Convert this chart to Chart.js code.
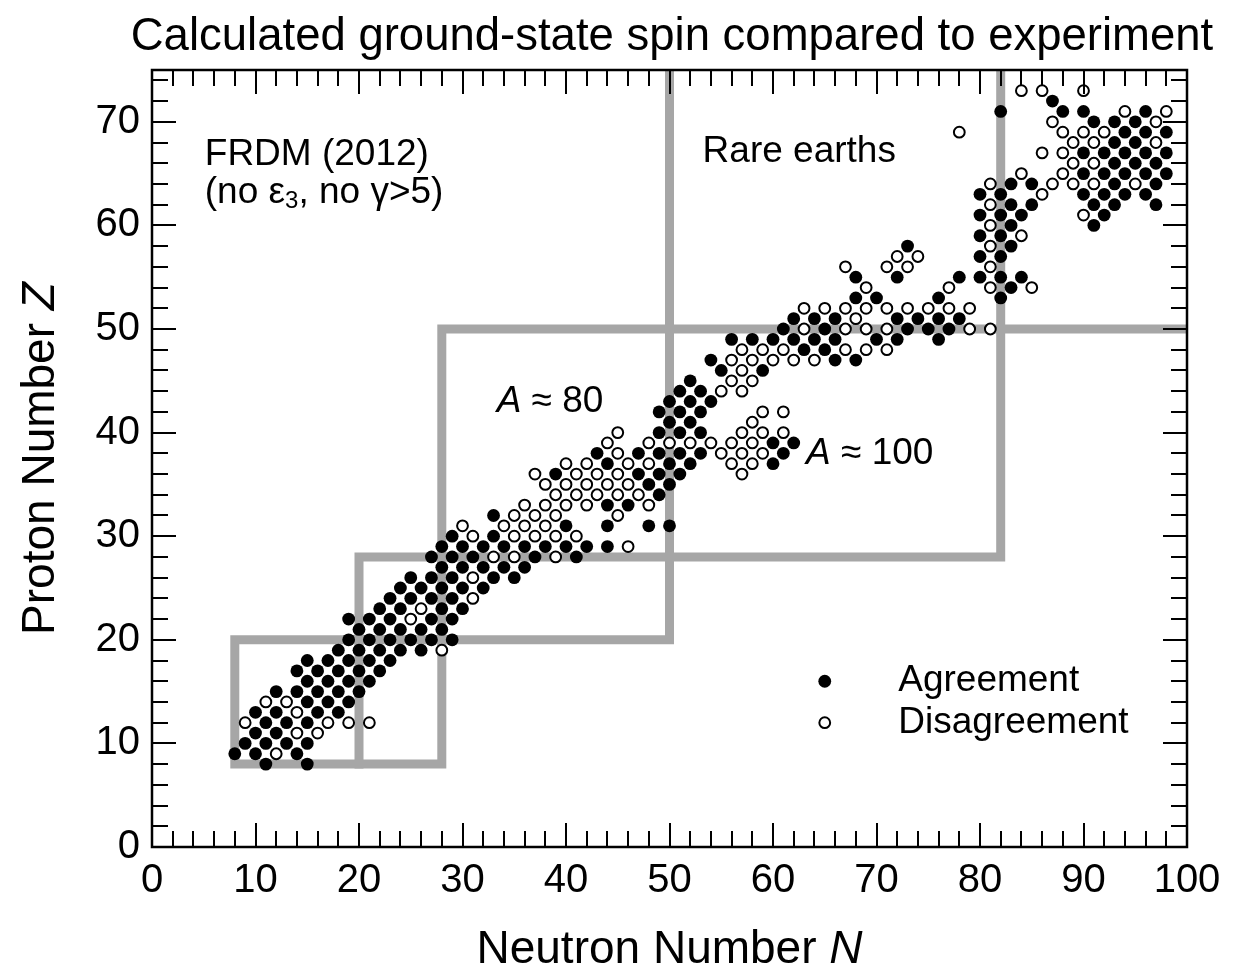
<!DOCTYPE html>
<html>
<head>
<meta charset="utf-8">
<script src="https://cdn.jsdelivr.net/npm/chart.js@4.4.1/dist/chart.umd.min.js"></script>
<style>
  html, body { margin: 0; padding: 0; background: #fff; }
</style>
</head>
<body>
<canvas id="spinChart" width="1258" height="980"></canvas>
<script>
// Ground-state spin: FRDM (2012) vs experiment

const FONT = '"Liberation Sans", Arial, Helvetica, sans-serif';

// axis ticks
const xTickValues = [0, 10, 20, 30, 40, 50, 60, 70, 80, 90, 100];
const yTickValues = [0, 10, 20, 30, 40, 50, 60, 70];
const minorStep = 2;

// [Z, [N, N, ...]] - calculated spin agrees with experiment
const agreement = [
    [8, [11, 15]],
    [9, [8, 10, 14]],
    [10, [9, 11, 13, 15]],
    [11, [10, 12]],
    [12, [11, 13, 15]],
    [13, [10, 12, 16, 18]],
    [14, [15, 17, 19]],
    [15, [12, 14, 16, 18, 20]],
    [16, [15, 17, 19, 21]],
    [17, [14, 16, 18, 20, 22]],
    [18, [15, 17, 19, 21, 23]],
    [19, [18, 20, 22, 24, 26]],
    [20, [19, 21, 23, 25, 27, 29]],
    [21, [20, 22, 24, 26, 28]],
    [22, [19, 21, 23, 27, 29]],
    [23, [22, 24, 28, 30]],
    [24, [23, 25, 27, 29]],
    [25, [24, 26, 28, 30, 32]],
    [26, [25, 27, 29, 33, 35]],
    [27, [28, 30, 32, 34, 36]],
    [28, [27, 29, 31, 37, 41]],
    [29, [28, 30, 32, 34, 36, 38, 40, 42, 44]],
    [30, [29, 33]],
    [31, [40, 44, 48, 50]],
    [32, [33]],
    [33, [44, 46]],
    [34, [49]],
    [35, [48, 50]],
    [36, [39, 47, 49, 51]],
    [37, [44, 50, 52, 60]],
    [38, [43, 47, 49, 51, 53, 61]],
    [39, [60, 62]],
    [40, [49, 51, 53]],
    [41, [50, 52]],
    [42, [49, 51, 53]],
    [43, [50, 52, 54]],
    [44, [51, 53]],
    [45, [52]],
    [46, [55, 59]],
    [47, [54, 66, 68]],
    [48, [63, 65]],
    [49, [56, 58, 60, 62, 64, 66, 70, 72, 76]],
    [50, [61, 65, 73, 75, 77]],
    [51, [62, 64, 66, 72, 74, 76, 78]],
    [53, [68, 70, 76, 82]],
    [54, [83]],
    [55, [68, 72, 78, 80, 82, 84]],
    [57, [80, 82]],
    [58, [73, 83]],
    [59, [80, 82]],
    [60, [83, 91]],
    [61, [80, 82, 84, 92]],
    [62, [83, 85, 91, 93, 97]],
    [63, [80, 82, 90, 92, 94, 96]],
    [64, [83, 85, 93, 97]],
    [65, [90, 92, 94, 96, 98]],
    [66, [93, 95, 97]],
    [67, [90, 92, 94, 96, 98]],
    [68, [93, 95]],
    [69, [94, 96, 98]],
    [70, [91, 93, 95]],
    [71, [82, 88, 90, 96]],
    [72, [87]]
];

// [Z, [N, N, ...]] - calculated spin disagrees with experiment
const disagreement = [
    [9, [12]],
    [11, [14, 16]],
    [12, [9, 17, 19, 21]],
    [13, [14]],
    [14, [11, 13]],
    [19, [28]],
    [22, [25]],
    [23, [26]],
    [24, [31]],
    [26, [31]],
    [28, [33, 35, 39]],
    [29, [46]],
    [30, [31, 35, 37, 39, 41]],
    [31, [30, 34, 36, 38]],
    [32, [35, 37, 39, 45]],
    [33, [36, 38, 40, 42, 48]],
    [34, [39, 41, 43, 45, 47]],
    [35, [38, 40, 42, 44, 46]],
    [36, [37, 41, 43, 45, 57]],
    [37, [40, 42, 46, 48, 56, 58]],
    [38, [45, 55, 57, 59]],
    [39, [44, 48, 50, 52, 54, 56, 58]],
    [40, [45, 57, 59, 61]],
    [41, [58]],
    [42, [59, 61]],
    [44, [55, 57]],
    [45, [56, 58]],
    [46, [57]],
    [47, [56, 58, 60, 62, 64]],
    [48, [57, 59, 61, 67, 69, 71]],
    [50, [63, 67, 69, 71, 79, 81]],
    [51, [68]],
    [52, [63, 65, 67, 69, 71, 73, 75, 77, 79]],
    [54, [69, 77, 81, 85]],
    [56, [67, 71, 73, 81]],
    [57, [72, 74]],
    [58, [81]],
    [59, [84]],
    [60, [81]],
    [61, [90]],
    [62, [81]],
    [63, [86]],
    [64, [81, 87, 89, 91, 95]],
    [65, [84, 88]],
    [66, [89, 91]],
    [67, [86, 88]],
    [68, [89, 91, 97]],
    [69, [78, 88, 90, 92]],
    [70, [87, 97]],
    [71, [94, 98]],
    [73, [84, 86, 90]]
];

// magic-number boxes, as polylines of [N, Z]
const magicPathA = [[50, 75], [50, 20], [8, 20], [8, 8], [28, 8], [28, 50], [100, 50]];
const magicPathB = [[82, 75], [82, 28], [20, 28], [20, 8]];

function toPoints(rows) {
    const pts = [];
    rows.forEach(([z, ns]) => ns.forEach(n => pts.push({ x: n, y: z })));
    return pts;
}

function toLine(path) {
    return path.map(([n, z]) => ({ x: n, y: z }));
}

function font(size, italic) {
    return (italic ? 'italic ' : '') + size + 'px ' + FONT;
}

// draw mixed-style text runs; align 'left' or 'center'
function drawRuns(ctx, runs, x, y, size, align) {
    let total = 0;
    runs.forEach(r => {
        ctx.font = font(r.size || size, r.italic);
        r.w = ctx.measureText(r.t).width;
        total += r.w;
    });
    let cx = align === 'center' ? x - total / 2 : x;
    ctx.textAlign = 'left';
    runs.forEach(r => {
        ctx.font = font(r.size || size, r.italic);
        ctx.fillText(r.t, cx, y + (r.dy || 0));
        cx += r.w;
    });
}

// inward ticks on all four sides plus the frame
const framePlugin = {
    id: 'frame',
    afterDatasetsDraw(chart) {
        const { ctx, chartArea: a, scales: { x, y } } = chart;
        ctx.save();
        ctx.strokeStyle = '#000';
        ctx.lineWidth = 2;
        ctx.beginPath();
        for (let v = x.min; v <= x.max; v += minorStep) {
            const px = Math.round(x.getPixelForValue(v));
            const len = v % 10 === 0 ? 24 : 16;
            ctx.moveTo(px, a.bottom); ctx.lineTo(px, a.bottom - len);
            ctx.moveTo(px, a.top); ctx.lineTo(px, a.top + len);
        }
        for (let v = y.min; v <= y.max; v += minorStep) {
            const py = Math.round(y.getPixelForValue(v));
            const len = v % 10 === 0 ? 24 : 16;
            ctx.moveTo(a.left, py); ctx.lineTo(a.left + len, py);
            ctx.moveTo(a.right, py); ctx.lineTo(a.right - len, py);
        }
        ctx.stroke();
        ctx.lineWidth = 2.5;
        ctx.strokeRect(a.left, a.top, a.right - a.left, a.bottom - a.top);
        ctx.restore();
    }
};

// title, axis titles, labels and legend
const textPlugin = {
    id: 'texts',
    afterDraw(chart) {
        const { ctx, chartArea: a, scales: { x, y } } = chart;
        ctx.save();
        ctx.fillStyle = '#000';
        ctx.textBaseline = 'alphabetic';

        drawRuns(ctx, [{ t: 'Calculated ground-state spin compared to experiment' }], 672, 50, 45.5, 'center');
        drawRuns(ctx, [{ t: 'Neutron Number ' }, { t: 'N', italic: true }], (a.left + a.right) / 2, 963, 46, 'center');

        ctx.save();
        ctx.translate(54, (a.top + a.bottom) / 2);
        ctx.rotate(-Math.PI / 2);
        drawRuns(ctx, [{ t: 'Proton Number ' }, { t: 'Z', italic: true }], 0, 0, 46, 'center');
        ctx.restore();

        ctx.textBaseline = 'middle';
        const s = 37;
        drawRuns(ctx, [{ t: 'FRDM (2012)' }], x.getPixelForValue(5.1), y.getPixelForValue(66.8), s, 'left');
        drawRuns(ctx, [{ t: '(no ε' }, { t: '3', size: 24, dy: 8 }, { t: ', no γ>5)' }],
            x.getPixelForValue(5.1), y.getPixelForValue(63.1), s, 'left');
        drawRuns(ctx, [{ t: 'Rare earths' }], x.getPixelForValue(53.2), y.getPixelForValue(67.1), s, 'left');
        drawRuns(ctx, [{ t: 'A', italic: true }, { t: ' ≈ 80' }], x.getPixelForValue(33.3), y.getPixelForValue(43.0), s, 'left');
        drawRuns(ctx, [{ t: 'A', italic: true }, { t: ' ≈ 100' }], x.getPixelForValue(63.2), y.getPixelForValue(38.0), s, 'left');

        // legend
        const mx = x.getPixelForValue(65.0);
        const ya = y.getPixelForValue(16.0);
        const yd = y.getPixelForValue(12.0);
        ctx.beginPath();
        ctx.arc(mx, ya, 6.4, 0, Math.PI * 2);
        ctx.fill();
        ctx.beginPath();
        ctx.arc(mx, yd, 5.4, 0, Math.PI * 2);
        ctx.fillStyle = '#fff';
        ctx.fill();
        ctx.lineWidth = 2;
        ctx.strokeStyle = '#000';
        ctx.stroke();
        ctx.fillStyle = '#000';
        drawRuns(ctx, [{ t: 'Agreement' }], x.getPixelForValue(72.1), ya, s, 'left');
        drawRuns(ctx, [{ t: 'Disagreement' }], x.getPixelForValue(72.1), yd, s, 'left');
        ctx.restore();
    }
};

const magicStyle = {
    showLine: true,
    borderColor: '#a6a6a6',
    borderWidth: 9,
    borderCapStyle: 'square',
    borderJoinStyle: 'miter',
    pointRadius: 0,
    fill: false,
    tension: 0,
    clip: 0,
    order: 2
};

const ctx = document.getElementById('spinChart');
const spinChart = new Chart(ctx, {
    type: 'scatter',
    data: {
        datasets: [
            {
                label: 'Agreement',
                data: toPoints(agreement),
                pointRadius: 6.4,
                pointHoverRadius: 6.4,
                backgroundColor: '#000',
                borderWidth: 0,
                order: 0
            },
            {
                label: 'Disagreement',
                data: toPoints(disagreement),
                pointRadius: 5.4,
                pointHoverRadius: 5.4,
                backgroundColor: '#fff',
                borderColor: '#000',
                borderWidth: 2,
                order: 0
            },
            Object.assign({ label: 'magicA', data: toLine(magicPathA) }, magicStyle),
            Object.assign({ label: 'magicB', data: toLine(magicPathB) }, magicStyle)
        ]
    },
    options: {
        responsive: false,
        animation: false,
        events: [],
        layout: { padding: { top: 70, right: 71, bottom: 0, left: 0 } },
        plugins: {
            legend: { display: false },
            tooltip: { enabled: false },
            title: { display: false }
        },
        scales: {
            x: {
                type: 'linear',
                min: 0,
                max: 100,
                afterBuildTicks: s => { s.ticks = xTickValues.map(v => ({ value: v })); },
                afterFit: s => { s.height = 133; },
                grid: { display: false, drawTicks: false },
                border: { display: false },
                ticks: {
                    color: '#000',
                    font: { family: FONT, size: 40 },
                    padding: 10,
                    maxRotation: 0,
                    autoSkip: false
                }
            },
            y: {
                type: 'linear',
                min: 0,
                max: 75,
                afterBuildTicks: s => { s.ticks = yTickValues.map(v => ({ value: v })); },
                afterFit: s => { s.width = 152; },
                grid: { display: false, drawTicks: false },
                border: { display: false },
                ticks: {
                    color: '#000',
                    font: { family: FONT, size: 40 },
                    padding: 12,
                    autoSkip: false
                }
            }
        }
    },
    plugins: [framePlugin, textPlugin]
});
</script>
</body>
</html>
